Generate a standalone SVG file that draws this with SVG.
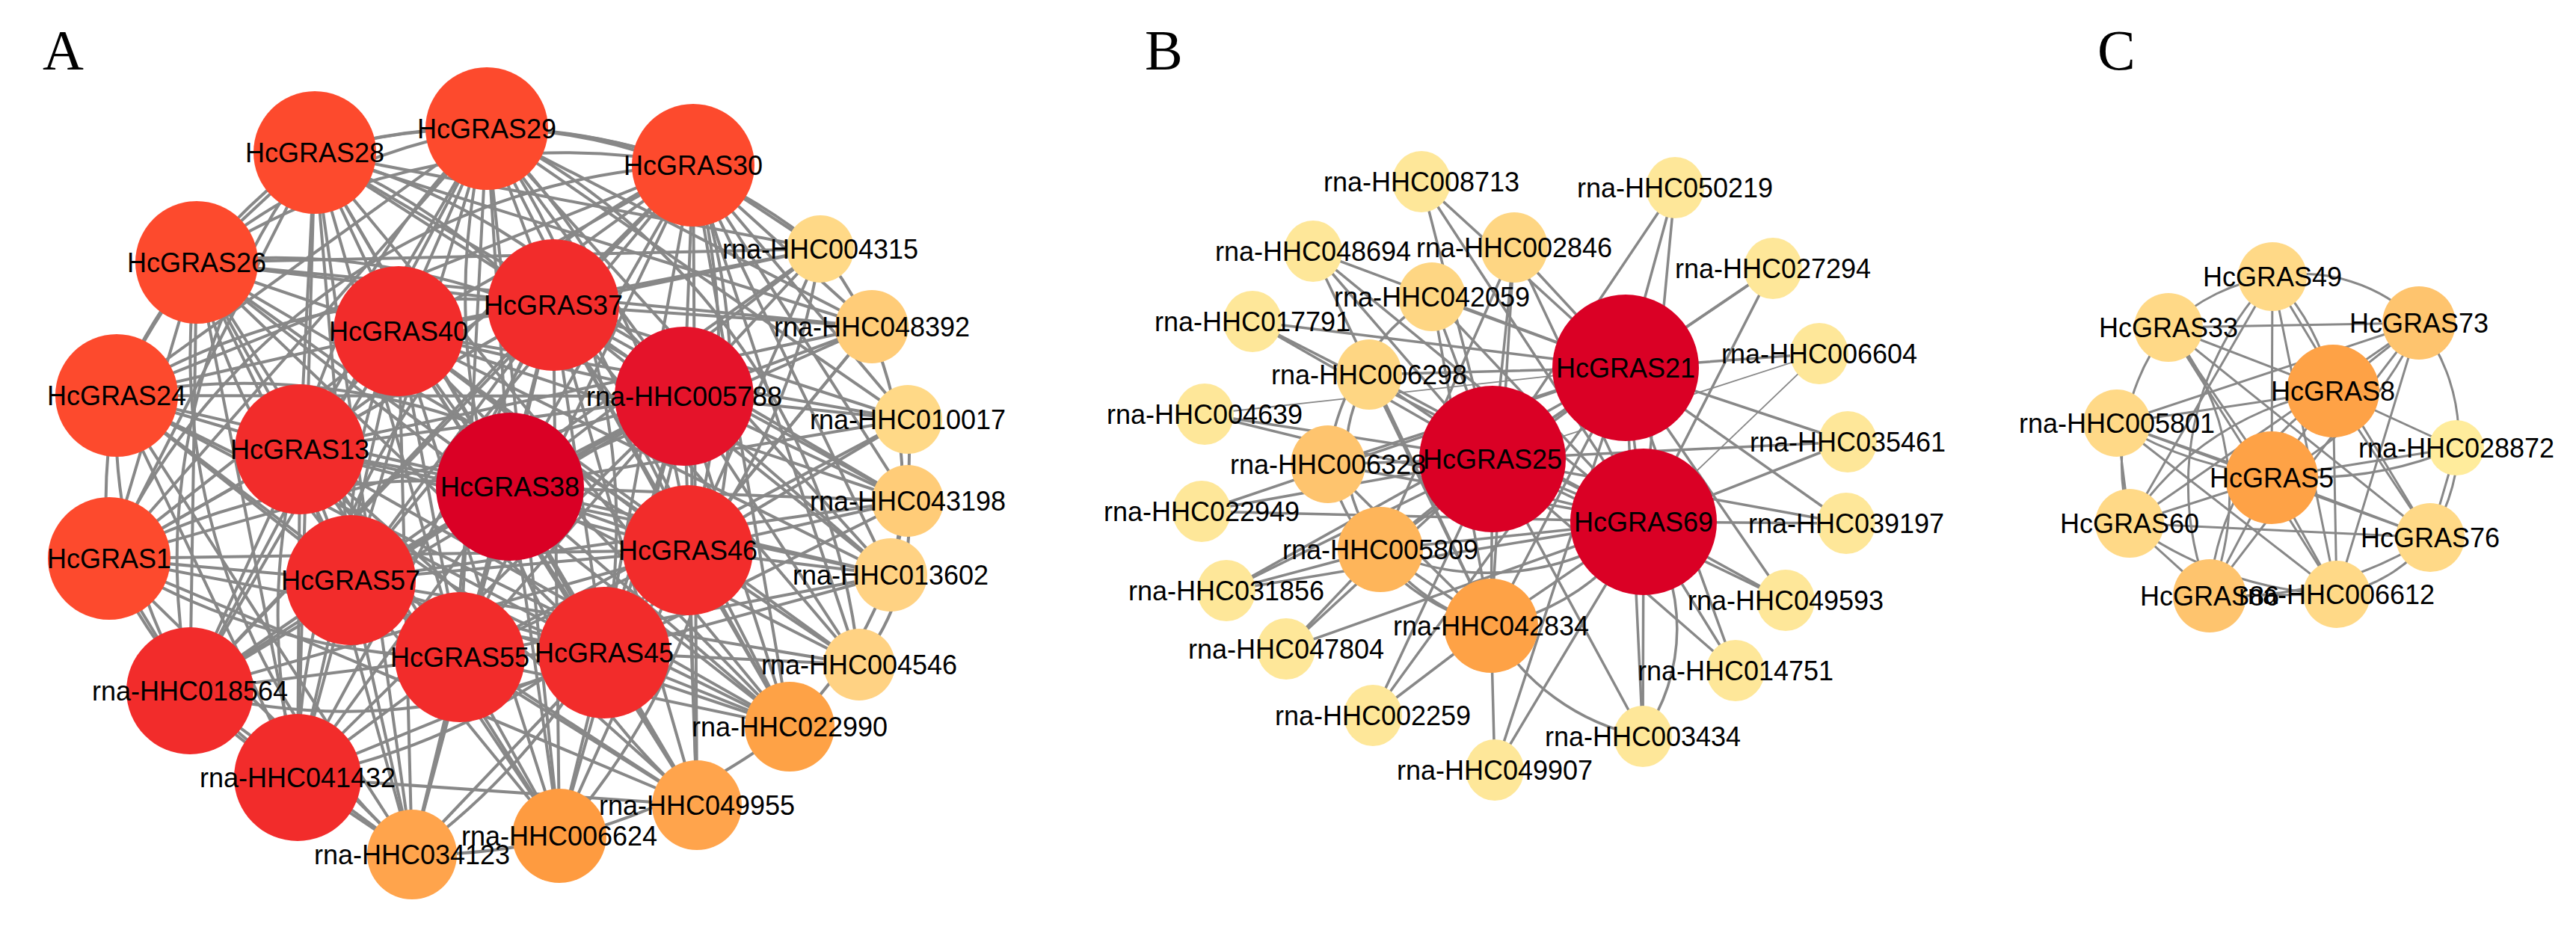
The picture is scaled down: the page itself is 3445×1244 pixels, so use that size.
<svg xmlns="http://www.w3.org/2000/svg" width="3445" height="1244" viewBox="0 0 3445 1244">
<style>
text{font-family:"Liberation Sans",Arial,Helvetica,sans-serif;font-size:36px;text-anchor:middle;fill:#000}
text.panel{font-family:"Liberation Serif","Times New Roman",serif;font-size:76px;text-anchor:start}
.edges{fill:none;stroke:#888888;stroke-linecap:round}
#edges-A{stroke-width:4}
#edges-B{stroke-width:3.5}
#edges-C{stroke-width:3}
.thin{stroke-width:1.8}
.r1{fill:#FD4A2D}.r2{fill:#F22C2B}.r3{fill:#DA0025}.r4{fill:#E5132A}
.o1{fill:#FFA44C}.o2{fill:#FE9B40}.o3{fill:#FEA246}.o4{fill:#FEB55A}.o5{fill:#FEC46E}
.y1{fill:#FFD283}.y2{fill:#FFCC78}.y3{fill:#FED683}.y4{fill:#FEE799}.y5{fill:#FFEC9C}.y6{fill:#FFD987}
</style>
<rect width="3445" height="1244" fill="#ffffff"/>
<text class="panel" x="57" y="93">A</text>
<text class="panel" x="1531" y="93">B</text>
<text class="panel" x="2805" y="93">C</text>

<g id="edges-A" class="edges">
<path d="M421 204A800 800 0 0 1 651 172"/><path d="M421 204A800 800 0 0 1 927 221"/><path d="M421 204L263 351"/><path d="M421 204A800 800 0 0 0 156 529"/><path d="M421 204L146 747"/><path d="M421 204L533 443"/><path d="M421 204L740 408"/><path d="M421 204L401 601"/><path d="M421 204L682 651"/><path d="M421 204A900 900 0 0 1 915 530"/><path d="M421 204L469 776"/><path d="M421 204A900 900 0 0 1 920 736"/><path d="M421 204L615 879"/><path d="M421 204L808 873"/><path d="M421 204A900 900 0 0 0 254 924"/><path d="M421 204L398 1040"/>
<path d="M651 172A800 800 0 0 1 927 221"/><path d="M651 172A800 800 0 0 0 263 351"/><path d="M651 172L156 529"/><path d="M651 172L146 747"/><path d="M651 172L533 443"/><path d="M651 172L740 408"/><path d="M651 172L401 601"/><path d="M651 172L682 651"/><path d="M651 172L915 530"/><path d="M651 172L469 776"/><path d="M651 172A900 900 0 0 1 920 736"/><path d="M651 172L615 879"/><path d="M651 172A900 900 0 0 1 808 873"/><path d="M651 172L254 924"/><path d="M651 172A900 900 0 0 0 398 1040"/>
<path d="M927 221A900 900 0 0 0 263 351"/><path d="M927 221L156 529"/><path d="M927 221A900 900 0 0 0 146 747"/><path d="M927 221L533 443"/><path d="M927 221L740 408"/><path d="M927 221L401 601"/><path d="M927 221L682 651"/><path d="M927 221L915 530"/><path d="M927 221L469 776"/><path d="M927 221A900 900 0 0 1 920 736"/><path d="M927 221L615 879"/><path d="M927 221L808 873"/><path d="M927 221L254 924"/><path d="M927 221A900 900 0 0 0 398 1040"/>
<path d="M263 351A700 700 0 0 0 156 529"/><path d="M263 351L146 747"/><path d="M263 351L533 443"/><path d="M263 351L740 408"/><path d="M263 351L401 601"/><path d="M263 351L682 651"/><path d="M263 351A900 900 0 0 1 915 530"/><path d="M263 351L469 776"/><path d="M263 351L920 736"/><path d="M263 351A900 900 0 0 0 615 879"/><path d="M263 351L808 873"/><path d="M263 351L254 924"/><path d="M263 351L398 1040"/>
<path d="M156 529A700 700 0 0 0 146 747"/><path d="M156 529L533 443"/><path d="M156 529A900 900 0 0 1 740 408"/><path d="M156 529L401 601"/><path d="M156 529L682 651"/><path d="M156 529L915 530"/><path d="M156 529L469 776"/><path d="M156 529A900 900 0 0 1 920 736"/><path d="M156 529L615 879"/><path d="M156 529L808 873"/><path d="M156 529A700 700 0 0 0 254 924"/><path d="M156 529L398 1040"/>
<path d="M146 747L533 443"/><path d="M146 747L740 408"/><path d="M146 747L401 601"/><path d="M146 747A900 900 0 0 1 682 651"/><path d="M146 747L915 530"/><path d="M146 747L469 776"/><path d="M146 747L920 736"/><path d="M146 747A900 900 0 0 0 615 879"/><path d="M146 747L808 873"/><path d="M146 747L254 924"/><path d="M146 747A700 700 0 0 0 398 1040"/>
<path d="M533 443L740 408"/><path d="M533 443L401 601"/><path d="M533 443L682 651"/><path d="M533 443L915 530"/><path d="M533 443A700 700 0 0 0 469 776"/><path d="M533 443L920 736"/><path d="M533 443L615 879"/><path d="M533 443L808 873"/><path d="M533 443L254 924"/><path d="M533 443L398 1040"/>
<path d="M740 408L401 601"/><path d="M740 408L682 651"/><path d="M740 408L915 530"/><path d="M740 408L469 776"/><path d="M740 408L920 736"/><path d="M740 408A800 800 0 0 0 615 879"/><path d="M740 408L808 873"/><path d="M740 408L254 924"/><path d="M740 408L398 1040"/>
<path d="M401 601L682 651"/><path d="M401 601L915 530"/><path d="M401 601L469 776"/><path d="M401 601L920 736"/><path d="M401 601L615 879"/><path d="M401 601A800 800 0 0 0 808 873"/><path d="M401 601L254 924"/><path d="M401 601L398 1040"/>
<path d="M682 651L915 530"/><path d="M682 651L469 776"/><path d="M682 651L920 736"/><path d="M682 651L615 879"/><path d="M682 651L808 873"/><path d="M682 651L254 924"/><path d="M682 651L398 1040"/>
<path d="M915 530L469 776"/><path d="M915 530A700 700 0 0 1 920 736"/><path d="M915 530L615 879"/><path d="M915 530L808 873"/><path d="M915 530L254 924"/><path d="M915 530L398 1040"/>
<path d="M469 776L920 736"/><path d="M469 776L615 879"/><path d="M469 776L808 873"/><path d="M469 776L254 924"/><path d="M469 776L398 1040"/>
<path d="M920 736L615 879"/><path d="M920 736L808 873"/><path d="M920 736L254 924"/><path d="M920 736A900 900 0 0 1 398 1040"/>
<path d="M615 879L808 873"/><path d="M615 879L254 924"/><path d="M615 879L398 1040"/>
<path d="M808 873A800 800 0 0 1 254 924"/><path d="M808 873L398 1040"/><path d="M254 924A600 600 0 0 0 398 1040"/>
<path d="M551 1143L421 204"/><path d="M551 1143A900 900 0 0 1 263 351"/><path d="M551 1143L156 529"/><path d="M551 1143L146 747"/><path d="M551 1143L533 443"/><path d="M551 1143L401 601"/><path d="M551 1143L682 651"/><path d="M551 1143L469 776"/><path d="M551 1143L254 924"/><path d="M551 1143L398 1040"/><path d="M551 1143L615 879"/><path d="M551 1143L808 873"/><path d="M551 1143L740 408"/><path d="M551 1143A900 900 0 0 0 915 530"/>
<path d="M748 1118L651 172"/><path d="M748 1118L740 408"/><path d="M748 1118L533 443"/><path d="M748 1118L682 651"/><path d="M748 1118L615 879"/><path d="M748 1118L808 873"/><path d="M748 1118L469 776"/><path d="M748 1118L401 601"/><path d="M748 1118L920 736"/><path d="M748 1118L915 530"/><path d="M748 1118A900 900 0 0 0 927 221"/><path d="M748 1118L263 351"/>
<path d="M932 1077L927 221"/><path d="M932 1077L740 408"/><path d="M932 1077L682 651"/><path d="M932 1077L808 873"/><path d="M932 1077L920 736"/><path d="M932 1077L915 530"/><path d="M932 1077L615 879"/><path d="M932 1077L469 776"/><path d="M932 1077L401 601"/><path d="M932 1077A900 900 0 0 1 651 172"/><path d="M932 1077L398 1040"/><path d="M932 1077L533 443"/><path d="M932 1077L146 747"/>
<path d="M1056 972L421 204"/><path d="M1056 972L651 172"/><path d="M1056 972L927 221"/><path d="M1056 972L740 408"/><path d="M1056 972L682 651"/><path d="M1056 972L915 530"/><path d="M1056 972L920 736"/><path d="M1056 972L808 873"/><path d="M1056 972L615 879"/><path d="M1056 972L469 776"/><path d="M1056 972L533 443"/><path d="M1056 972L401 601"/><path d="M1056 972L263 351"/><path d="M1056 972L156 529"/><path d="M1056 972A800 800 0 0 1 551 1143"/>
<path d="M1149 889L927 221"/><path d="M1149 889L740 408"/><path d="M1149 889L682 651"/><path d="M1149 889L915 530"/><path d="M1149 889L920 736"/><path d="M1149 889L808 873"/><path d="M1149 889A900 900 0 0 0 651 172"/><path d="M1149 889L533 443"/><path d="M1149 889L469 776"/>
<path d="M1191 769L651 172"/><path d="M1191 769L927 221"/><path d="M1191 769L740 408"/><path d="M1191 769L533 443"/><path d="M1191 769L682 651"/><path d="M1191 769L915 530"/><path d="M1191 769L920 736"/><path d="M1191 769L808 873"/><path d="M1191 769L615 879"/><path d="M1191 769L401 601"/><path d="M1191 769A500 500 0 0 0 1097 333"/>
<path d="M1214 670L421 204"/><path d="M1214 670L927 221"/><path d="M1214 670L740 408"/><path d="M1214 670L915 530"/><path d="M1214 670L682 651"/><path d="M1214 670L920 736"/><path d="M1214 670L808 873"/><path d="M1214 670L469 776"/><path d="M1214 670L533 443"/><path d="M1214 670A300 300 0 0 1 1149 889"/>
<path d="M1214 561L651 172"/><path d="M1214 561L927 221"/><path d="M1214 561L740 408"/><path d="M1214 561L915 530"/><path d="M1214 561L682 651"/><path d="M1214 561L920 736"/><path d="M1214 561L533 443"/><path d="M1214 561L615 879"/><path d="M1214 561A500 500 0 0 1 1056 972"/>
<path d="M1166 437L421 204"/><path d="M1166 437L651 172"/><path d="M1166 437L927 221"/><path d="M1166 437L740 408"/><path d="M1166 437L915 530"/><path d="M1166 437L682 651"/><path d="M1166 437L920 736"/><path d="M1166 437L808 873"/><path d="M1166 437L401 601"/><path d="M1166 437L263 351"/>
<path d="M1097 333L263 351"/><path d="M1097 333L421 204"/><path d="M1097 333A700 700 0 0 0 651 172"/><path d="M1097 333L927 221"/><path d="M1097 333L740 408"/><path d="M1097 333L533 443"/><path d="M1097 333L915 530"/><path d="M1097 333L682 651"/><path d="M1097 333L920 736"/><path d="M1097 333L469 776"/><path d="M1097 333A900 900 0 0 1 808 873"/>
</g>

<g id="edges-B" class="edges">
<path d="M2174 492L1996 614"/><path d="M2174 492L2198 698"/><path d="M1996 614L2198 698"/>
<path d="M1901 243L1996 614"/><path d="M1901 243L2174 492"/><path d="M1901 243L2198 698"/>
<path d="M1756 336L1996 614"/><path d="M1756 336L2174 492"/><path d="M1756 336L2198 698"/><path d="M1756 336L1994 837"/>
<path d="M1675 430L2174 492"/><path d="M1675 430L1996 614"/><path d="M1675 430L2198 698"/>
<path d="M1611 554L1996 614"/><path class="thin" d="M1611 554L2174 492"/><path d="M1611 554L2198 698"/>
<path d="M1607 684L1996 614"/><path d="M1607 684L2198 698"/><path d="M1607 684L2174 492"/>
<path d="M1640 790L1996 614"/><path d="M1640 790L2174 492"/><path d="M1640 790L1846 735"/><path d="M1640 790L2198 698"/>
<path d="M1720 868L1996 614"/><path d="M1720 868L2198 698"/><path d="M1720 868L1846 735"/>
<path d="M1836 957L1994 837"/><path d="M1836 957L1996 614"/><path d="M1836 957L2174 492"/>
<path d="M1999 1030L1994 837"/><path d="M1999 1030L2198 698"/><path d="M1999 1030L2174 492"/>
<path d="M2197 985L2198 698"/><path d="M2197 985A300 300 0 0 1 1994 837"/><path d="M2197 985L1996 614"/><path d="M2197 985L2174 492"/><path d="M2197 985A250 250 0 0 0 2198 698"/>
<path d="M2321 897L2198 698"/><path d="M2321 897L2174 492"/><path d="M2321 897L1996 614"/>
<path d="M2388 803L2198 698"/><path d="M2388 803L2174 492"/><path d="M2388 803L1996 614"/>
<path d="M2469 700L2198 698"/><path d="M2469 700L2174 492"/><path d="M2469 700L1996 614"/>
<path d="M2471 591L2174 492"/><path d="M2471 591L2198 698"/><path d="M2471 591L1996 614"/>
<path d="M2433 473L2174 492"/><path class="thin" d="M2433 473L1996 614"/><path class="thin" d="M2433 473L2198 698"/>
<path d="M2371 359L2174 492"/><path d="M2371 359L2198 698"/><path d="M2371 359L1996 614"/>
<path d="M2240 251L2174 492"/><path d="M2240 251L2198 698"/><path d="M2240 251L1996 614"/>
<path d="M2025 331L2174 492"/><path d="M2025 331L1996 614"/><path d="M2025 331L2198 698"/><path d="M2025 331L1994 837"/><path d="M2025 331L1846 735"/>
<path d="M1915 397L2174 492"/><path d="M1915 397L1996 614"/><path d="M1915 397L2198 698"/><path d="M1915 397L1994 837"/><path d="M1915 397A300 300 0 0 0 1776 621"/>
<path d="M1831 501L2174 492"/><path d="M1831 501L1996 614"/><path d="M1831 501L2198 698"/><path d="M1831 501L1994 837"/><path d="M1831 501A200 200 0 0 0 1846 735"/>
<path d="M1776 621L2174 492"/><path d="M1776 621L1996 614"/><path d="M1776 621L2198 698"/><path d="M1776 621L1994 837"/><path d="M1776 621A300 300 0 0 0 1994 837"/>
<path d="M1846 735L2174 492"/><path d="M1846 735L1996 614"/><path d="M1846 735L2198 698"/><path d="M1846 735L1994 837"/><path d="M1846 735A350 350 0 0 0 2198 698"/>
<path d="M1994 837L2174 492"/><path d="M1994 837L1996 614"/><path d="M1994 837L2198 698"/><path d="M1994 837A300 300 0 0 0 2198 698"/><path d="M1994 837A260 260 0 0 1 1846 735"/>
</g>

<g id="edges-C" class="edges">
<path d="M3038 639L3039 370"/><path d="M3038 639L2900 438"/><path d="M3038 639A400 400 0 0 0 3235 432"/><path d="M3038 639L3120 523"/><path d="M3038 639L2831 566"/><path d="M3038 639L3285 599"/><path d="M3038 639L2848 700"/><path d="M3038 639L3250 719"/><path d="M3038 639L2955 797"/><path d="M3038 639L3125 795"/>
<path d="M3120 523A300 300 0 0 0 3039 370"/><path d="M3120 523L2900 438"/><path d="M3120 523L3235 432"/><path d="M3120 523L2831 566"/><path d="M3120 523L3285 599"/><path d="M3120 523A400 400 0 0 0 2848 700"/><path d="M3120 523L3250 719"/><path d="M3120 523A350 350 0 0 0 2955 797"/><path d="M3120 523L3125 795"/>
<path d="M3039 370A250 250 0 0 0 2900 438"/><path d="M3039 370A220 220 0 0 1 3235 432"/><path d="M3039 370L2848 700"/><path d="M3039 370L3250 719"/><path d="M3039 370L3125 795"/><path d="M3039 370A400 400 0 0 0 2955 797"/>
<path d="M2900 438L3235 432"/><path d="M2900 438A300 300 0 0 0 2848 700"/><path d="M2900 438L3250 719"/><path d="M2900 438L3125 795"/><path d="M2900 438A350 350 0 0 1 2955 797"/>
<path d="M3235 432L2831 566"/><path d="M3235 432L2848 700"/><path d="M3235 432L3125 795"/><path d="M3235 432L2955 797"/><path d="M3235 432A250 250 0 0 1 3250 719"/>
<path d="M2831 566A500 500 0 0 0 3285 599"/><path d="M2831 566L2848 700"/><path d="M2831 566L3250 719"/><path d="M2831 566L3125 795"/>
<path d="M2848 700A500 500 0 0 0 3125 795"/><path d="M2848 700L3250 719"/><path d="M2848 700L2955 797"/>
<path d="M2955 797L3125 795"/><path d="M2955 797A500 500 0 0 0 3250 719"/>
<path d="M3250 719A200 200 0 0 1 3125 795"/><path d="M3250 719L3285 599"/>
</g>

<g id="nodes-A">
<g id="n-HcGRAS38"><circle class="r3" cx="682" cy="651" r="99"/><text x="682" y="664">HcGRAS38</text></g>
<g id="n-rna-HHC005788"><circle class="r4" cx="915" cy="530" r="93"/><text x="915" y="543">rna-HHC005788</text></g>
<g id="n-HcGRAS37"><circle class="r2" cx="740" cy="408" r="88"/><text x="740" y="421">HcGRAS37</text></g>
<g id="n-HcGRAS40"><circle class="r2" cx="533" cy="443" r="87"/><text x="533" y="456">HcGRAS40</text></g>
<g id="n-HcGRAS13"><circle class="r2" cx="401" cy="601" r="87"/><text x="401" y="614">HcGRAS13</text></g>
<g id="n-HcGRAS57"><circle class="r2" cx="469" cy="776" r="87"/><text x="469" y="789">HcGRAS57</text></g>
<g id="n-HcGRAS46"><circle class="r2" cx="920" cy="736" r="87"/><text x="920" y="749">HcGRAS46</text></g>
<g id="n-HcGRAS55"><circle class="r2" cx="615" cy="879" r="87"/><text x="615" y="892">HcGRAS55</text></g>
<g id="n-HcGRAS45"><circle class="r2" cx="808" cy="873" r="88"/><text x="808" y="886">HcGRAS45</text></g>
<g id="n-rna-HHC018564"><circle class="r2" cx="254" cy="924" r="85"/><text x="254" y="937">rna-HHC018564</text></g>
<g id="n-rna-HHC041432"><circle class="r2" cx="398" cy="1040" r="85"/><text x="398" y="1053">rna-HHC041432</text></g>
<g id="n-HcGRAS28"><circle class="r1" cx="421" cy="204" r="82"/><text x="421" y="217">HcGRAS28</text></g>
<g id="n-HcGRAS29"><circle class="r1" cx="651" cy="172" r="82"/><text x="651" y="185">HcGRAS29</text></g>
<g id="n-HcGRAS30"><circle class="r1" cx="927" cy="221" r="82"/><text x="927" y="234">HcGRAS30</text></g>
<g id="n-HcGRAS26"><circle class="r1" cx="263" cy="351" r="82"/><text x="263" y="364">HcGRAS26</text></g>
<g id="n-HcGRAS24"><circle class="r1" cx="156" cy="529" r="82"/><text x="156" y="542">HcGRAS24</text></g>
<g id="n-HcGRAS1"><circle class="r1" cx="146" cy="747" r="82"/><text x="146" y="760">HcGRAS1</text></g>
<g id="n-rna-HHC006624"><circle class="o2" cx="748" cy="1118" r="63"/><text x="748" y="1131">rna-HHC006624</text></g>
<g id="n-rna-HHC034123"><circle class="o1" cx="551" cy="1143" r="60"/><text x="551" y="1156">rna-HHC034123</text></g>
<g id="n-rna-HHC049955"><circle class="o1" cx="932" cy="1077" r="60"/><text x="932" y="1090">rna-HHC049955</text></g>
<g id="n-rna-HHC022990"><circle class="o3" cx="1056" cy="972" r="60"/><text x="1056" y="985">rna-HHC022990</text></g>
<g id="n-rna-HHC004546"><circle class="y1" cx="1149" cy="889" r="48"/><text x="1149" y="902">rna-HHC004546</text></g>
<g id="n-rna-HHC013602"><circle class="y1" cx="1191" cy="769" r="49"/><text x="1191" y="782">rna-HHC013602</text></g>
<g id="n-rna-HHC043198"><circle class="y2" cx="1214" cy="670" r="48"/><text x="1214" y="683">rna-HHC043198</text></g>
<g id="n-rna-HHC010017"><circle class="y6" cx="1214" cy="561" r="46"/><text x="1214" y="574">rna-HHC010017</text></g>
<g id="n-rna-HHC048392"><circle class="y2" cx="1166" cy="437" r="49"/><text x="1166" y="450">rna-HHC048392</text></g>
<g id="n-rna-HHC004315"><circle class="y6" cx="1097" cy="333" r="45"/><text x="1097" y="346">rna-HHC004315</text></g>
</g>

<g id="nodes-B">
<g id="n-HcGRAS21"><circle class="r3" cx="2174" cy="492" r="98"/><text x="2174" y="505">HcGRAS21</text></g>
<g id="n-HcGRAS69"><circle class="r3" cx="2198" cy="698" r="98"/><text x="2198" y="711">HcGRAS69</text></g>
<g id="n-HcGRAS25"><circle class="r3" cx="1996" cy="614" r="98"/><text x="1996" y="627">HcGRAS25</text></g>
<g id="n-rna-HHC042834"><circle class="o3" cx="1994" cy="837" r="63"/><text x="1994" y="850">rna-HHC042834</text></g>
<g id="n-rna-HHC005809"><circle class="o4" cx="1846" cy="735" r="57"/><text x="1846" y="748">rna-HHC005809</text></g>
<g id="n-rna-HHC006328"><ellipse class="o5" cx="1776" cy="621" rx="50" ry="52"/><text x="1776" y="634">rna-HHC006328</text></g>
<g id="n-rna-HHC006298"><ellipse class="y3" cx="1831" cy="501" rx="44" ry="47"/><text x="1831" y="514">rna-HHC006298</text></g>
<g id="n-rna-HHC042059"><ellipse class="y3" cx="1915" cy="397" rx="45" ry="46"/><text x="1915" y="410">rna-HHC042059</text></g>
<g id="n-rna-HHC002846"><ellipse class="y3" cx="2025" cy="331" rx="45" ry="47"/><text x="2025" y="344">rna-HHC002846</text></g>
<g id="n-rna-HHC008713"><ellipse class="y4" cx="1901" cy="243" rx="39" ry="41"/><text x="1901" y="256">rna-HHC008713</text></g>
<g id="n-rna-HHC048694"><ellipse class="y4" cx="1756" cy="336" rx="39" ry="41"/><text x="1756" y="349">rna-HHC048694</text></g>
<g id="n-rna-HHC017791"><ellipse class="y4" cx="1675" cy="430" rx="39" ry="41"/><text x="1675" y="443">rna-HHC017791</text></g>
<g id="n-rna-HHC004639"><ellipse class="y4" cx="1611" cy="554" rx="39" ry="41"/><text x="1611" y="567">rna-HHC004639</text></g>
<g id="n-rna-HHC022949"><ellipse class="y4" cx="1607" cy="684" rx="39" ry="41"/><text x="1607" y="697">rna-HHC022949</text></g>
<g id="n-rna-HHC031856"><ellipse class="y4" cx="1640" cy="790" rx="39" ry="41"/><text x="1640" y="803">rna-HHC031856</text></g>
<g id="n-rna-HHC047804"><ellipse class="y4" cx="1720" cy="868" rx="39" ry="41"/><text x="1720" y="881">rna-HHC047804</text></g>
<g id="n-rna-HHC002259"><ellipse class="y4" cx="1836" cy="957" rx="39" ry="41"/><text x="1836" y="970">rna-HHC002259</text></g>
<g id="n-rna-HHC049907"><ellipse class="y4" cx="1999" cy="1030" rx="39" ry="41"/><text x="1999" y="1043">rna-HHC049907</text></g>
<g id="n-rna-HHC003434"><ellipse class="y4" cx="2197" cy="985" rx="39" ry="41"/><text x="2197" y="998">rna-HHC003434</text></g>
<g id="n-rna-HHC014751"><ellipse class="y4" cx="2321" cy="897" rx="39" ry="41"/><text x="2321" y="910">rna-HHC014751</text></g>
<g id="n-rna-HHC049593"><ellipse class="y4" cx="2388" cy="803" rx="39" ry="41"/><text x="2388" y="816">rna-HHC049593</text></g>
<g id="n-rna-HHC039197"><ellipse class="y4" cx="2469" cy="700" rx="39" ry="41"/><text x="2469" y="713">rna-HHC039197</text></g>
<g id="n-rna-HHC035461"><ellipse class="y4" cx="2471" cy="591" rx="39" ry="41"/><text x="2471" y="604">rna-HHC035461</text></g>
<g id="n-rna-HHC006604"><ellipse class="y4" cx="2433" cy="473" rx="39" ry="41"/><text x="2433" y="486">rna-HHC006604</text></g>
<g id="n-rna-HHC027294"><ellipse class="y4" cx="2371" cy="359" rx="39" ry="41"/><text x="2371" y="372">rna-HHC027294</text></g>
<g id="n-rna-HHC050219"><ellipse class="y4" cx="2240" cy="251" rx="39" ry="41"/><text x="2240" y="264">rna-HHC050219</text></g>
</g>

<g id="nodes-C">
<g id="n-HcGRAS8"><circle class="o3" cx="3120" cy="523" r="62"/><text x="3120" y="536">HcGRAS8</text></g>
<g id="n-HcGRAS5"><circle class="o3" cx="3038" cy="639" r="62"/><text x="3038" y="652">HcGRAS5</text></g>
<g id="n-HcGRAS73"><circle class="o5" cx="3235" cy="432" r="49"/><text x="3235" y="445">HcGRAS73</text></g>
<g id="n-HcGRAS49"><circle class="y6" cx="3039" cy="370" r="46"/><text x="3039" y="383">HcGRAS49</text></g>
<g id="n-HcGRAS33"><circle class="y6" cx="2900" cy="438" r="46"/><text x="2900" y="451">HcGRAS33</text></g>
<g id="n-rna-HHC005801"><circle class="y6" cx="2831" cy="566" r="45"/><text x="2831" y="579">rna-HHC005801</text></g>
<g id="n-rna-HHC028872"><circle class="y5" cx="3285" cy="599" r="37"/><text x="3285" y="612">rna-HHC028872</text></g>
<g id="n-HcGRAS60"><circle class="y6" cx="2848" cy="700" r="46"/><text x="2848" y="713">HcGRAS60</text></g>
<g id="n-HcGRAS76"><circle class="y6" cx="3250" cy="719" r="46"/><text x="3250" y="732">HcGRAS76</text></g>
<g id="n-HcGRAS86"><circle class="o5" cx="2955" cy="797" r="49"/><text x="2955" y="810">HcGRAS86</text></g>
<g id="n-rna-HHC006612"><circle class="y6" cx="3125" cy="795" r="45"/><text x="3125" y="808">rna-HHC006612</text></g>
</g>
</svg>
